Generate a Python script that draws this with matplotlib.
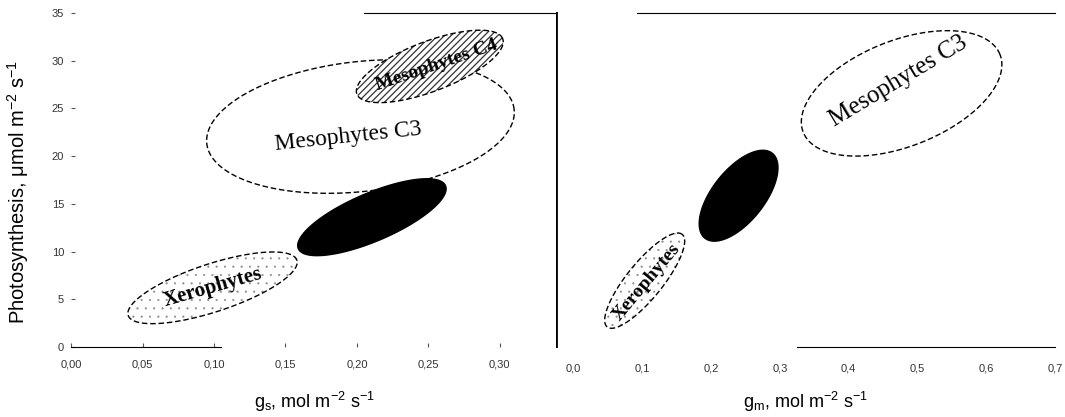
import numpy as np
import matplotlib
matplotlib.use('Agg')
import matplotlib.pyplot as plt
from matplotlib.patches import Polygon

plt.rcParams['font.family'] = 'Liberation Sans'
plt.rcParams['mathtext.fontset'] = 'custom'
plt.rcParams['mathtext.rm'] = 'Liberation Sans'
plt.rcParams['mathtext.it'] = 'Liberation Sans'

# groups: ellipse major-axis end points (data units) and minor/major ratio
left_names = ['Mesophytes C3', 'Mesophytes C4', '', 'Xerophytes']
left_fill = ['open', 'hatch', 'solid', 'dots']
left_x0 = [0.095, 0.200, 0.159, 0.040]
left_y0 = [21.3, 26.5, 10.3, 3.3]
left_x1 = [0.310, 0.302, 0.262, 0.158]
left_y1 = [24.9, 32.3, 16.9, 9.1]
left_ratio = [0.42, 0.32, 0.30, 0.27]

right_names = ['Mesophytes C3', '', 'Xerophytes']
right_fill = ['open', 'solid', 'dots']
right_x0 = [0.334, 0.191, 0.049]
right_y0 = [22.5, 11.4, 2.1]
right_x1 = [0.620, 0.289, 0.158]
right_y1 = [30.65, 20.3, 11.8]
right_ratio = [0.50, 0.48, 0.30]

left_ticks = [0.00, 0.05, 0.10, 0.15, 0.20, 0.25, 0.30]
left_ticklabels = ['0,00', '0,05', '0,10', '0,15', '0,20', '0,25', '0,30']
right_ticks = [0.0, 0.1, 0.2, 0.3, 0.4, 0.5, 0.6, 0.7]
right_ticklabels = ['0,0', '0,1', '0,2', '0,3', '0,4', '0,5', '0,6', '0,7']
y_ticks = [0, 5, 10, 15, 20, 25, 30, 35]

# label placement (x, y, rotation, size, weight)
left_text = {'Mesophytes C3': (0.194, 22.0, 6, 17, 'normal'),
             'Mesophytes C4': (0.256, 29.5, 19, 14, 'bold'),
             'Xerophytes': (0.099, 6.3, 16, 15, 'bold')}
right_text = {'Mesophytes C3': (0.473, 27.8, 31, 18, 'normal'),
              'Xerophytes': (0.106, 6.8, 50, 14, 'bold')}

fig = plt.figure(figsize=(10.65, 4.17), dpi=100)
axL = fig.add_axes([0.0667, 0.1679, 0.4563, 0.801])
axR = fig.add_axes([0.523, 0.1679, 0.4676, 0.801])

axL.set_xlim(0, 0.34)
axR.set_xlim(-0.024, 0.70)
for ax in (axL, axR):
    ax.set_ylim(0, 35)


def ellipse_points(ax, p0, p1, ratio, n=240):
    tr = ax.transData
    a0, a1 = tr.transform([p0, p1])
    c = (a0 + a1) / 2
    u = (a1 - a0) / 2
    v = np.array([-u[1], u[0]]) * ratio
    t = np.linspace(0, 2 * np.pi, n)
    pts = c + np.outer(np.cos(t), u) + np.outer(np.sin(t), v)
    return tr.inverted().transform(pts)


def draw_groups(ax, x0, y0, x1, y1, ratio, fills):
    dash = (0, (4, 2))
    for i in range(len(x0)):
        pts = ellipse_points(ax, (x0[i], y0[i]), (x1[i], y1[i]), ratio[i])
        kind = fills[i]
        if kind == 'solid':
            ax.add_patch(Polygon(pts, closed=True, fc='black', ec='black', lw=1))
            continue
        ax.add_patch(Polygon(pts, closed=True, fc='white', ec='none'))
        if kind == 'dots':
            with plt.rc_context({'hatch.linewidth': 0.3}):
                ax.add_patch(Polygon(pts, closed=True, fill=False, ec='#8a8a8a',
                                     lw=0, hatch='..'))
        elif kind == 'hatch':
            with plt.rc_context({'hatch.linewidth': 0.9}):
                ax.add_patch(Polygon(pts, closed=True, fill=False, ec='#333333',
                                     lw=0, hatch='/////'))
        ax.add_patch(Polygon(pts, closed=True, fill=False, ec='black',
                             lw=1.0, linestyle=dash))


draw_groups(axL, left_x0, left_y0, left_x1, left_y1, left_ratio, left_fill)
draw_groups(axR, right_x0, right_y0, right_x1, right_y1, right_ratio, right_fill)

for ax, labels in ((axL, left_text), (axR, right_text)):
    for name, (tx, ty, rot, size, weight) in labels.items():
        ax.text(tx, ty, name, rotation=rot, fontsize=size, fontweight=weight,
                family='Liberation Serif', ha='center', va='center',
                rotation_mode='anchor', color='black')

# axes styling
axL.set_xticks(left_ticks)
axL.set_xticklabels(left_ticklabels)
axL.set_yticks(y_ticks)
axL.tick_params(axis='x', direction='in', length=3, width=0.8, pad=9,
                labelsize=8, labelcolor='#333333', color='#555555')
axL.tick_params(axis='y', direction='in', length=3, width=0.8, pad=5,
                labelsize=8, labelcolor='#333333', color='#555555')
axL.spines['left'].set_visible(False)
axL.spines['top'].set_bounds(0.205, 0.34)
axL.spines['bottom'].set_bounds(0.0, 0.105)
axL.spines['right'].set_linewidth(1.3)

axR.set_xticks(right_ticks)
axR.set_xticklabels(right_ticklabels)
axR.set_yticks([])
axR.tick_params(axis='x', length=0, pad=12, labelsize=8, labelcolor='#333333')
axR.spines['right'].set_visible(False)
axR.spines['left'].set_linewidth(1.3)
axR.spines['top'].set_bounds(0.093, 0.70)
axR.spines['bottom'].set_bounds(0.325, 0.70)

axL.set_xlabel('g$_s$, mol m$^{-2}$ s$^{-1}$', fontsize=13, va='center')
axL.xaxis.set_label_coords(0.5, -0.165)
axR.set_xlabel('g$_m$, mol m$^{-2}$ s$^{-1}$', fontsize=13, va='center')
axR.xaxis.set_label_coords(0.5, -0.165)
axL.set_ylabel('Photosynthesis, \u03bcmol m$^{-2}$ s$^{-1}$', fontsize=14.5,
               va='center')
axL.yaxis.set_label_coords(-0.11, 0.464)

fig.savefig('out.png', dpi=100)
